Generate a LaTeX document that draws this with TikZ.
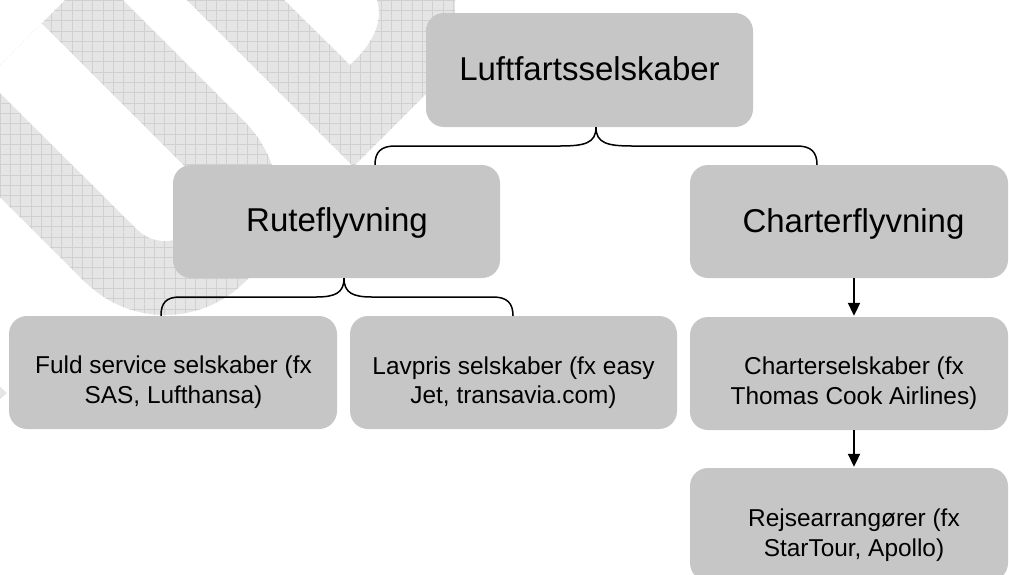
\documentclass[tikz,border=0pt]{standalone}
\usepackage{fontspec}
\setmainfont{Liberation Sans}
\usetikzlibrary{arrows.meta,calc}
\definecolor{boxgray}{HTML}{C6C6C6}
\definecolor{wmfill}{HTML}{E5E5E5}
\definecolor{wmline}{HTML}{D0D0D0}
\newcommand\wmgridlines{%
  \foreach \i in {-3,...,46} {%
    \draw[wmgrid] (\i*10.3,-40) -- (\i*10.3,480);
    \draw[wmgrid] (-90,\i*10.3) -- (480,\i*10.3);
  }}
\begin{document}
\begin{tikzpicture}[x=1pt,y=-1pt,
  box/.style={rectangle, fill=boxgray, draw=none, rounded corners=18pt, inner sep=0pt},
  bigtext/.style={font=\fontsize{33}{40}\selectfont, inner sep=0pt, anchor=base},
  smalltext/.style={font=\fontsize{24.4}{29.5}\selectfont, align=center, inner sep=0pt},
  brace/.style={line width=1.5pt, draw=black},
  arr/.style={line width=2pt, draw=black, -{Triangle[length=13pt,width=12pt]}},
  wm/.style={fill=wmfill, draw=none},
  wmgrid/.style={draw=wmline, line width=0.7pt}
]
\useasboundingbox (0,0) rectangle (1009,574);
\clip (0,0) rectangle (1009,574);

% ---- watermark (U shape)
\fill[wm] (-66,131) -- (85,282) -- (245,122) -- (94,-29) -- cycle;
\fill[wm] (165,202) circle[radius=113];
\begin{scope}
  \clip (-66,131) -- (85,282) -- (245,122) -- (94,-29) -- cycle;
  \wmgridlines
\end{scope}
\begin{scope}
  \clip (165,202) circle[radius=113];
  \wmgridlines
\end{scope}
\fill[white] (-14,79) -- (137.4,229.6) -- (192.6,174.4) -- (41.5,23.5) -- cycle;
\fill[white] (165,202) circle[radius=39];

% ---- watermark (V shape)
\fill[wm] (167,-20) -- (353.5,166.5) -- (440,80) .. controls (455,65) and (455,20) .. (455,0)
  -- (455,-20) -- (377,-20) -- (377,0) .. controls (383,20) and (375,42) .. (350,65) -- (264,-20) -- cycle;
\begin{scope}
  \clip (167,-20) -- (353.5,166.5) -- (440,80) .. controls (455,65) and (455,20) .. (455,0)
  -- (455,-20) -- (377,-20) -- (377,0) .. controls (383,20) and (375,42) .. (350,65) -- (264,-20) -- cycle;
  \wmgridlines
\end{scope}
\fill[wm] (-2,385) -- (7,393) -- (-2,401) -- cycle;

% ---- boxes
\node[box, minimum width=327pt, minimum height=114pt] (luft) at (589.5,70) {};
\node[box, minimum width=327pt, minimum height=113pt] (rute) at (336.5,221.5) {};
\node[box, minimum width=318pt, minimum height=113pt] (charter) at (849,221.5) {};
\node[box, minimum width=328pt, minimum height=113pt] (fuld) at (173,372.5) {};
\node[box, minimum width=327pt, minimum height=113pt] (lav) at (513.5,372.5) {};
\node[box, minimum width=318pt, minimum height=113pt] (chs) at (849,373.5) {};
\node[box, minimum width=318pt, minimum height=113pt] (rej) at (849,524.5) {};

% ---- texts
\node[bigtext] (luft-t) at (589.5,80) {Luftfartsselskaber};
\node[bigtext] (rute-t) at (337,231) {Ruteflyvning};
\node[bigtext] (charter-t) at (853.5,232) {Charterflyvning};
\node[smalltext] (fuld-t) at (173.5,382.4) {Fuld service selskaber (fx\\SAS, Lufthansa)};
\node[smalltext] (lav-t) at (513.5,382.9) {Lavpris selskaber (fx easy\\Jet, transavia.com)};
\node[smalltext] (chs-t) at (854,383.4) {Charterselskaber (fx\\Thomas Cook Airlines)};
\node[smalltext] (rej-t) at (854,535.4) {Rejsearrangører (fx\\StarTour, Apollo)};

% ---- braces
\coordinate (ltip) at ($(luft.south)+(6.5,0)$);
\coordinate (lL) at ($(rute.north)+(38.5,0)$);
\coordinate (lR) at ($(charter.north)+(-32,0)$);
\draw[brace] (ltip) .. controls (596,143) and (585,146) .. (560,146) -- (395,146)
  .. controls (381,146) and (375,152) .. (lL);
\draw[brace] (ltip) .. controls (596,143) and (607,146) .. (632,146) -- (797,146)
  .. controls (811,146) and (817,152) .. (lR);

\coordinate (rtip) at ($(rute.south)+(7.5,0)$);
\coordinate (rL) at ($(fuld.north)+(-12,0)$);
\coordinate (rR) at ($(lav.north)+(-0.5,0)$);
\draw[brace] (rtip) .. controls (344,293) and (335,297) .. (316,297) -- (180,297)
  .. controls (166,297) and (161,303) .. (rL);
\draw[brace] (rtip) .. controls (344,293) and (353,297) .. (372,297) -- (493,297)
  .. controls (507,297) and (513,303) .. (rR);

% ---- arrows
\draw[arr] ($(charter.south)+(5,0)$) -- ($(chs.north)+(5,-1)$);
\draw[arr] ($(chs.south)+(5,0)$) -- ($(rej.north)+(5,-1)$);
\end{tikzpicture}
\end{document}
